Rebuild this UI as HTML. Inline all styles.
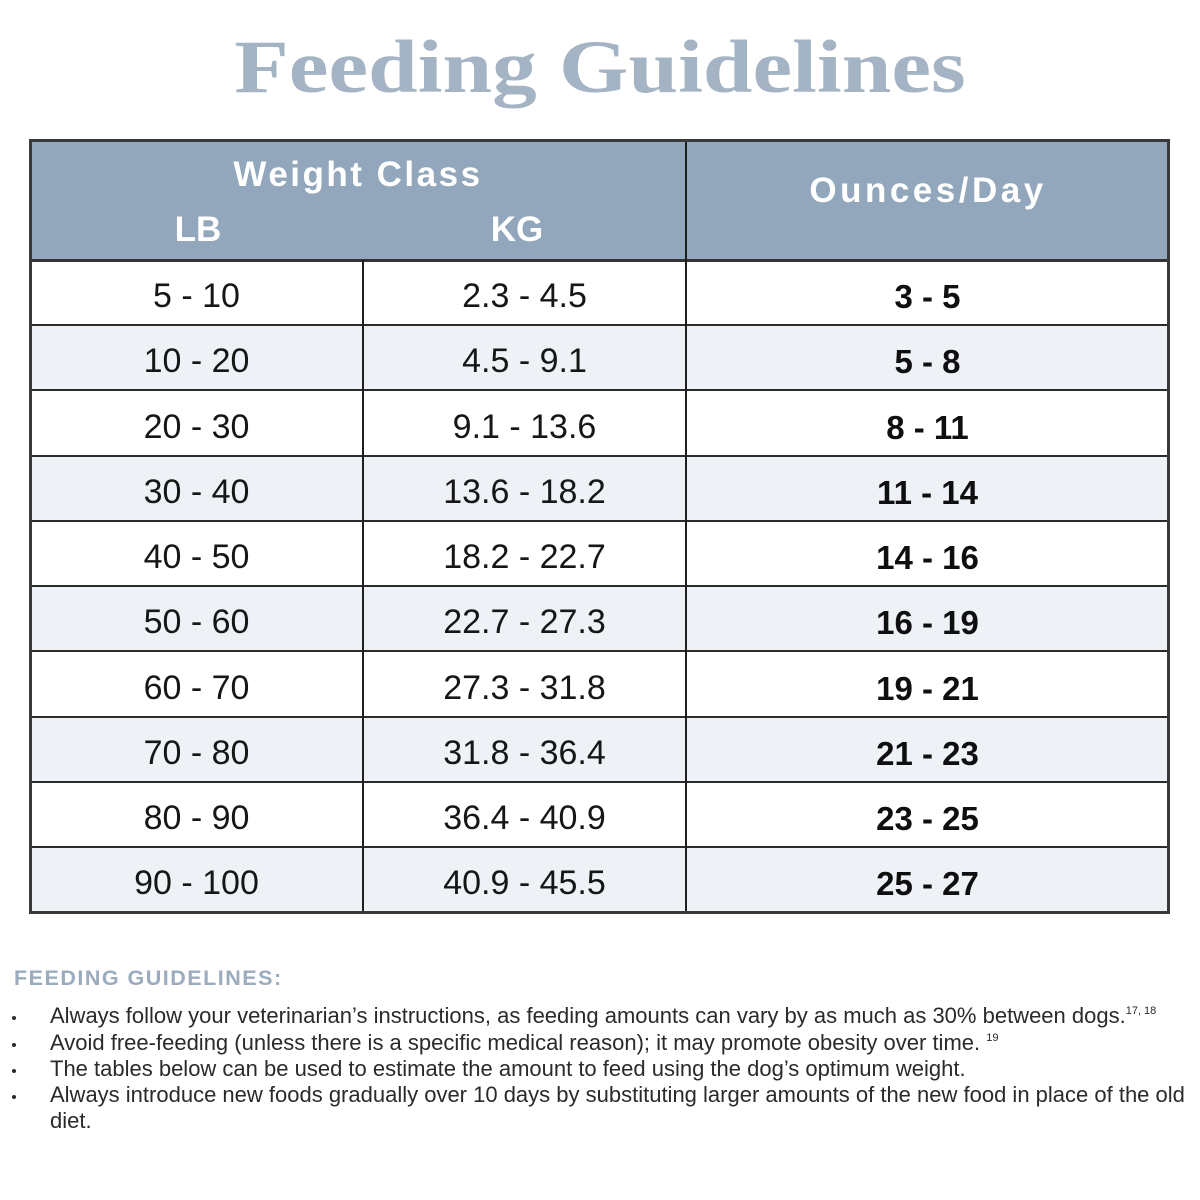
<!DOCTYPE html>
<html>
<head>
<meta charset="utf-8">
<style>
  html,body{margin:0;padding:0;background:#ffffff;}
  body{width:1200px;height:1200px;position:relative;overflow:hidden;font-family:"Liberation Sans",Arial,sans-serif;}
  .abs{position:absolute;}
  .title{position:absolute;left:0;width:1200px;top:30px;text-align:center;font-family:"Liberation Serif","Times New Roman",serif;font-weight:bold;font-size:75px;line-height:75px;color:#a5b4c4;transform:scaleX(1.19);transform-origin:600px 0;white-space:nowrap;}
  .hdr{position:absolute;font-weight:bold;font-size:35px;line-height:35px;color:#ffffff;text-align:center;white-space:nowrap;}
  .cell{position:absolute;font-size:34px;line-height:34px;color:#161616;text-align:center;white-space:nowrap;}
  .b{font-weight:bold;color:#0f0f0f;font-size:33px;}
  .hl{position:absolute;left:30px;width:1140px;height:2px;background:#2b2b2b;}
  .vl{position:absolute;width:2px;background:#1f1f1f;}
  .row{position:absolute;left:30px;width:1140px;}
  .note{position:absolute;left:50px;font-size:22px;line-height:22px;color:#2a2a2a;white-space:nowrap;}
  .dot{position:absolute;left:12px;width:4px;height:4px;border-radius:50%;background:#2a2a2a;}
  sup{font-size:11px;line-height:0;vertical-align:9px;}
</style>
</head>
<body>
<div class="title">Feeding Guidelines</div>

<!-- backgrounds -->
<div class="abs" style="left:30px;top:140px;width:1140px;height:120px;background:#92a7bb;"></div>
<div class="row" style="top:260px;height:65px;background:#ffffff;"></div>
<div class="row" style="top:325px;height:66px;background:#eef2f7;"></div>
<div class="row" style="top:391px;height:65px;background:#ffffff;"></div>
<div class="row" style="top:456px;height:65px;background:#eef2f7;"></div>
<div class="row" style="top:521px;height:65px;background:#ffffff;"></div>
<div class="row" style="top:586px;height:66px;background:#eef2f7;"></div>
<div class="row" style="top:652px;height:65px;background:#ffffff;"></div>
<div class="row" style="top:717px;height:65px;background:#eef2f7;"></div>
<div class="row" style="top:782px;height:65px;background:#ffffff;"></div>
<div class="row" style="top:847px;height:65px;background:#eef2f7;"></div>

<!-- grid lines -->
<div class="hl" style="top:259px;height:3px;background:#333;"></div>
<div class="hl" style="top:324px;"></div>
<div class="hl" style="top:389px;"></div>
<div class="hl" style="top:455px;"></div>
<div class="hl" style="top:520px;"></div>
<div class="hl" style="top:585px;"></div>
<div class="hl" style="top:650px;"></div>
<div class="hl" style="top:716px;"></div>
<div class="hl" style="top:781px;"></div>
<div class="hl" style="top:846px;"></div>
<div class="vl" style="left:362px;top:260px;height:652px;"></div>
<div class="vl" style="left:685px;top:140px;height:772px;"></div>
<div class="abs" style="left:29px;top:139px;width:1141px;height:775px;border:3px solid #3a3a3a;box-sizing:border-box;"></div>

<!-- header text -->
<div class="hdr" style="left:158px;width:400px;top:157px;letter-spacing:2.5px;">Weight Class</div>
<div class="hdr" style="left:98px;width:200px;top:212px;">LB</div>
<div class="hdr" style="left:417px;width:200px;top:212px;">KG</div>
<div class="hdr" style="left:728px;width:400px;top:173px;letter-spacing:3.5px;">Ounces/Day</div>

<!-- rows -->
<div class="cell" style="left:30px;width:333px;top:279px;">5 - 10</div>
<div class="cell" style="left:363px;width:323px;top:279px;">2.3 - 4.5</div>
<div class="cell b" style="left:686px;width:483px;top:280px;">3 - 5</div>

<div class="cell" style="left:30px;width:333px;top:344px;">10 - 20</div>
<div class="cell" style="left:363px;width:323px;top:344px;">4.5 - 9.1</div>
<div class="cell b" style="left:686px;width:483px;top:345px;">5 - 8</div>

<div class="cell" style="left:30px;width:333px;top:410px;">20 - 30</div>
<div class="cell" style="left:363px;width:323px;top:410px;">9.1 - 13.6</div>
<div class="cell b" style="left:686px;width:483px;top:411px;">8 - 11</div>

<div class="cell" style="left:30px;width:333px;top:475px;">30 - 40</div>
<div class="cell" style="left:363px;width:323px;top:475px;">13.6 - 18.2</div>
<div class="cell b" style="left:686px;width:483px;top:476px;">11 - 14</div>

<div class="cell" style="left:30px;width:333px;top:540px;">40 - 50</div>
<div class="cell" style="left:363px;width:323px;top:540px;">18.2 - 22.7</div>
<div class="cell b" style="left:686px;width:483px;top:541px;">14 - 16</div>

<div class="cell" style="left:30px;width:333px;top:605px;">50 - 60</div>
<div class="cell" style="left:363px;width:323px;top:605px;">22.7 - 27.3</div>
<div class="cell b" style="left:686px;width:483px;top:606px;">16 - 19</div>

<div class="cell" style="left:30px;width:333px;top:671px;">60 - 70</div>
<div class="cell" style="left:363px;width:323px;top:671px;">27.3 - 31.8</div>
<div class="cell b" style="left:686px;width:483px;top:672px;">19 - 21</div>

<div class="cell" style="left:30px;width:333px;top:736px;">70 - 80</div>
<div class="cell" style="left:363px;width:323px;top:736px;">31.8 - 36.4</div>
<div class="cell b" style="left:686px;width:483px;top:737px;">21 - 23</div>

<div class="cell" style="left:30px;width:333px;top:801px;">80 - 90</div>
<div class="cell" style="left:363px;width:323px;top:801px;">36.4 - 40.9</div>
<div class="cell b" style="left:686px;width:483px;top:802px;">23 - 25</div>

<div class="cell" style="left:30px;width:333px;top:866px;">90 - 100</div>
<div class="cell" style="left:363px;width:323px;top:866px;">40.9 - 45.5</div>
<div class="cell b" style="left:686px;width:483px;top:867px;">25 - 27</div>

<!-- notes -->
<div class="abs" style="left:14px;top:968px;font-size:21.5px;line-height:21.5px;font-weight:bold;letter-spacing:1.5px;color:#9aacbe;white-space:nowrap;">FEEDING GUIDELINES:</div>

<div class="dot" style="top:1016px;"></div>
<div class="note" style="top:1005px;">Always follow your veterinarian’s instructions, as feeding amounts can vary by as much as 30% between dogs.<sup>17, 18</sup></div>
<div class="dot" style="top:1043px;"></div>
<div class="note" style="top:1032px;">Avoid free-feeding (unless there is a specific medical reason); it may promote obesity over time. <sup>19</sup></div>
<div class="dot" style="top:1069px;"></div>
<div class="note" style="top:1058px;">The tables below can be used to estimate the amount to feed using the dog’s optimum weight.</div>
<div class="dot" style="top:1095px;"></div>
<div class="note" style="top:1084px;">Always introduce new foods gradually over 10 days by substituting larger amounts of the new food in place of the old</div>
<div class="note" style="top:1110px;">diet.</div>
</body>
</html>
